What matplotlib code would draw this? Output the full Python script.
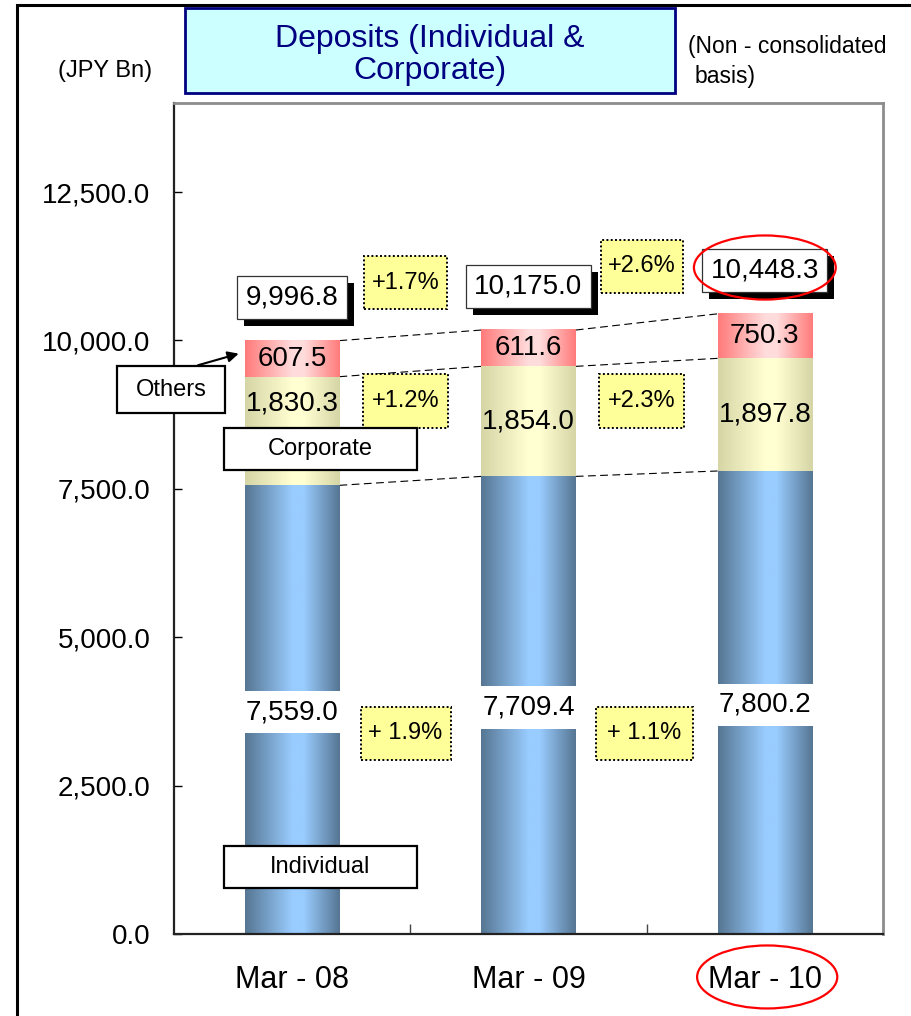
import numpy as np
import matplotlib.pyplot as plt
from matplotlib.patches import Rectangle, Ellipse
from matplotlib import patheffects as pe
from matplotlib.transforms import blended_transform_factory

plt.rcParams['font.family'] = ['Liberation Sans', 'DejaVu Sans']

periods = ['Mar - 08', 'Mar - 09', 'Mar - 10']
individual = [7559.0, 7709.4, 7800.2]
corporate = [1830.3, 1854.0, 1897.8]
others = [607.5, 611.6, 750.3]
totals = [9996.8, 10175.0, 10448.3]
growth_total = ['+1.7%', '+2.6%']
growth_corp = ['+1.2%', '+2.3%']
growth_indiv = ['+ 1.9%', '+ 1.1%']
yticks = [0, 2500, 5000, 7500, 10000, 12500]


def hex2rgb(h):
    h = h.lstrip('#')
    return np.array([int(h[i:i + 2], 16) for i in (0, 2, 4)]) / 255.0


def shade(ax, bars, edge, mid):
    # horizontal "cylinder" gradient: dark edges, light band right of centre
    t = np.linspace(0, 1, 120)
    ramp = np.interp(t, [0, 0.5, 0.62, 1], [0, 1, 1, 0])
    e, m = hex2rgb(edge), hex2rgb(mid)
    img = (e + np.outer(ramp, m - e))[np.newaxis, :, :]
    for b in bars:
        x0, y0 = b.get_x(), b.get_y()
        ax.imshow(img, extent=[x0, x0 + b.get_width(), y0, y0 + b.get_height()],
                  aspect='auto', interpolation='bilinear', zorder=2)


fig = plt.figure(figsize=(9.12, 10.16), dpi=100)
fig.patch.set_facecolor('white')
ax = fig.add_axes([174 / 912, 82 / 1016, 709 / 912, 831 / 1016])

x = np.arange(len(periods))
w = 0.40
corp_base = individual
oth_base = np.add(individual, corporate)

b_ind = ax.bar(x, individual, w, color='none', linewidth=0)
b_cor = ax.bar(x, corporate, w, bottom=corp_base, color='none', linewidth=0)
b_oth = ax.bar(x, others, w, bottom=oth_base, color='none', linewidth=0)
shade(ax, b_ind, '#567693', '#99CCFF')
shade(ax, b_cor, '#D5D5A6', '#FFFFD2')
shade(ax, b_oth, '#FF7B7B', '#FFDCDC')

# dashed connectors between segment boundaries
for lv in [individual, oth_base, totals]:
    for i in range(len(x) - 1):
        ax.plot([x[i] + w / 2, x[i + 1] - w / 2], [lv[i], lv[i + 1]],
                ls=(0, (7, 4)), color='black', lw=0.8, zorder=1)

# segment values
for i, v in enumerate(individual):
    ax.text(x[i], v / 2 - 40, f"{v:,.1f}", ha='center', va='center', fontsize=20, zorder=4,
            bbox=dict(boxstyle='square,pad=0.3', fc='white', ec='none'))
for i, v in enumerate(corporate):
    y = corp_base[i] + v / 2 + (470 if i == 0 else 0)
    ax.text(x[i], y, f"{v:,.1f}", ha='center', va='center', fontsize=20, zorder=4)
for i, v in enumerate(others):
    ax.text(x[i], oth_base[i] + v / 2, f"{v:,.1f}", ha='center', va='center',
            fontsize=20, zorder=4)

# totals with drop shadow
for i, t in enumerate(totals):
    txt = ax.text(x[i], t + 730, f"{t:,.1f}", ha='center', va='center', fontsize=20,
                  zorder=6, bbox=dict(boxstyle='square,pad=0.3', fc='white',
                                      ec='#333333', lw=0.9))
    txt.get_bbox_patch().set_path_effects(
        [pe.SimplePatchShadow(offset=(5, -5), shadow_rgbFace='black', alpha=1),
         pe.Normal()])


def growth_box(xc, yc, label, bw, bh=900):
    ax.add_patch(Rectangle((xc - bw / 2, yc - bh / 2), bw, bh, fc='#FFFF99', ec='black',
                           lw=1.4, ls=(0, (1, 1.2)), zorder=5))
    ax.text(xc, yc, label, ha='center', va='center', fontsize=17, zorder=6)


for i in range(len(x) - 1):
    xm = x[i] + 0.5 - 0.02
    growth_box(xm, max(totals[i], totals[i + 1]) + 800, growth_total[i], 0.35)
    growth_box(xm, 8980, growth_corp[i], 0.36)
    growth_box(xm + 0.01 * i, 3380, growth_indiv[i], 0.38 + 0.03 * i)


def name_box(xc, yc, label, bw, bh):
    ax.add_patch(Rectangle((xc - bw / 2, yc - bh / 2), bw, bh, fc='white', ec='black',
                           lw=1.6, zorder=7, clip_on=False))
    ax.text(xc, yc, label, ha='center', va='center', fontsize=17, zorder=8)


name_box(-0.512, 9173, 'Others', 0.457, 792)
name_box(0.12, 8171, 'Corporate', 0.817, 707)
name_box(0.12, 1129, 'Individual', 0.817, 707)
ax.annotate('', xy=(x[0] - w / 2 - 0.015, 9790), xytext=(-0.41, 9569),
            arrowprops=dict(arrowstyle='-|>', color='black', lw=1.5, mutation_scale=16),
            zorder=8, annotation_clip=False)

# highlight latest period
ax.add_patch(Ellipse((x[2] + 0.0, totals[2] + 780), 0.60, 1080, fill=False, ec='red',
                     lw=1.6, zorder=9))
trans = blended_transform_factory(ax.transData, ax.transAxes)
ax.add_patch(Ellipse((x[2] + 0.01, -0.0517), 0.593, 0.0758, transform=trans, fill=False,
                     ec='red', lw=1.6, clip_on=False, zorder=9))

ax.set_xlim(-0.5, 2.5)
ax.set_ylim(0, 14000)
ax.set_yticks(yticks)
ax.set_yticklabels([f"{v:,.1f}" for v in yticks])
ax.set_xticks(x)
ax.set_xticklabels(periods)
ax.set_xticks(x[:-1] + 0.5, minor=True)
ax.tick_params(axis='y', direction='in', length=6, width=1, labelsize=20, pad=17)
ax.tick_params(axis='x', which='major', length=0, labelsize=22, pad=22)
ax.tick_params(axis='x', which='minor', direction='in', length=7, width=1, color='#444444')
for s in ['left', 'bottom']:
    ax.spines[s].set_color('#222222')
    ax.spines[s].set_linewidth(1.6)
for s in ['top', 'right']:
    ax.spines[s].set_color('#8C8C8C')
    ax.spines[s].set_linewidth(2)

# outer frame, title and units
fig.add_artist(Rectangle((17 / 912, -0.1), 1.2, 1.1 - 5 / 1016, transform=fig.transFigure,
                         fill=False, ec='black', lw=2.2))
fig.add_artist(Rectangle((185 / 912, 1 - 93 / 1016), 490 / 912, 85 / 1016,
                         transform=fig.transFigure, fc='#CCFFFF', ec='#000080', lw=2))
fig.text(430 / 912, 1 - 55 / 1016, 'Deposits (Individual &\nCorporate)', ha='center',
         va='center', fontsize=23, color='#000080', linespacing=1.12)
fig.text(105 / 912, 1 - 71 / 1016, '(JPY Bn)', ha='center', va='center', fontsize=17)
fig.text(688 / 912, 1 - 46 / 1016, '(Non - consolidated', ha='left', va='center',
         fontsize=16.5)
fig.text(695 / 912, 1 - 76 / 1016, 'basis)', ha='left', va='center', fontsize=16.5)

fig.savefig('out.png', dpi=100)
